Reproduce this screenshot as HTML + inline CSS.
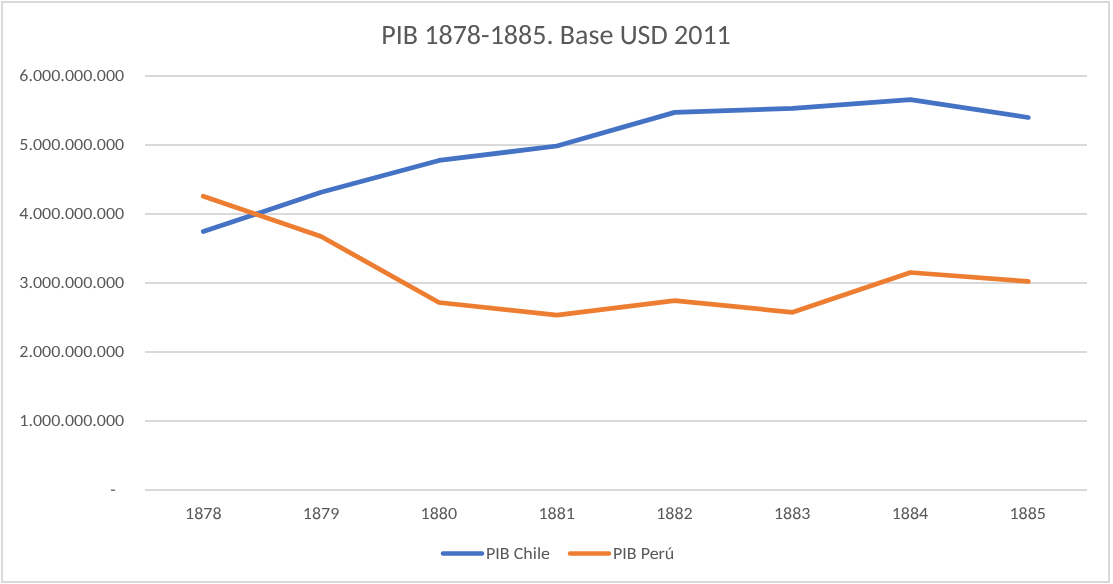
<!DOCTYPE html>
<html>
<head>
<meta charset="utf-8">
<style>
html,body{margin:0;padding:0;background:#fff;}
body{width:1113px;height:584px;overflow:hidden;}
svg{display:block;}
text{font-family:Carlito,"Liberation Sans",sans-serif;fill:#595959;text-rendering:geometricPrecision;}
</style>
</head>
<body>
<svg width="1113" height="584" viewBox="0 0 1113 584" xmlns="http://www.w3.org/2000/svg">
<rect x="0" y="0" width="1113" height="584" fill="#fff"/>
<rect x="2" y="2" width="1107" height="580" fill="#fff" stroke="#d9d9d9" stroke-width="2"/>
<text font-size="28" text-anchor="middle" transform="translate(556,44)" textLength="349.59" lengthAdjust="spacingAndGlyphs">PIB 1878-1885. Base USD 2011</text>
<g stroke="#d9d9d9" stroke-width="2" fill="none">
<line x1="145" y1="76" x2="1087" y2="76"/>
<line x1="145" y1="145" x2="1087" y2="145"/>
<line x1="145" y1="214" x2="1087" y2="214"/>
<line x1="145" y1="283" x2="1087" y2="283"/>
<line x1="145" y1="352" x2="1087" y2="352"/>
<line x1="145" y1="421" x2="1087" y2="421"/>
<line x1="145" y1="490" x2="1087" y2="490"/>
</g>
<g font-size="18" text-anchor="end">
<text transform="translate(124.2,81.4) scale(1,0.95)" textLength="104.88" lengthAdjust="spacingAndGlyphs">6.000.000.000</text>
<text transform="translate(124.2,150.4) scale(1,0.95)" textLength="104.88" lengthAdjust="spacingAndGlyphs">5.000.000.000</text>
<text transform="translate(124.2,219.4) scale(1,0.95)" textLength="104.88" lengthAdjust="spacingAndGlyphs">4.000.000.000</text>
<text transform="translate(124.2,288.4) scale(1,0.95)" textLength="104.88" lengthAdjust="spacingAndGlyphs">3.000.000.000</text>
<text transform="translate(124.2,357.4) scale(1,0.95)" textLength="104.88" lengthAdjust="spacingAndGlyphs">2.000.000.000</text>
<text transform="translate(124.2,426.4) scale(1,0.95)" textLength="104.88" lengthAdjust="spacingAndGlyphs">1.000.000.000</text>
<text transform="translate(115.7,495.4) scale(1,0.95)" textLength="5.52" lengthAdjust="spacingAndGlyphs">-</text>
</g>
<g font-size="18" text-anchor="middle">
<text transform="translate(203.33,519) scale(1,0.95)" textLength="36.5" lengthAdjust="spacingAndGlyphs">1878</text>
<text transform="translate(321.10,519) scale(1,0.95)" textLength="36.5" lengthAdjust="spacingAndGlyphs">1879</text>
<text transform="translate(438.87,519) scale(1,0.95)" textLength="36.5" lengthAdjust="spacingAndGlyphs">1880</text>
<text transform="translate(556.64,519) scale(1,0.95)" textLength="36.5" lengthAdjust="spacingAndGlyphs">1881</text>
<text transform="translate(674.41,519) scale(1,0.95)" textLength="36.5" lengthAdjust="spacingAndGlyphs">1882</text>
<text transform="translate(792.18,519) scale(1,0.95)" textLength="36.5" lengthAdjust="spacingAndGlyphs">1883</text>
<text transform="translate(909.95,519) scale(1,0.95)" textLength="36.5" lengthAdjust="spacingAndGlyphs">1884</text>
<text transform="translate(1027.72,519) scale(1,0.95)" textLength="36.5" lengthAdjust="spacingAndGlyphs">1885</text>
</g>
<g fill="none" stroke-width="4.75" stroke-linecap="round" stroke-linejoin="round">
<polyline stroke="#4472c4" points="203.30,231.5 321.16,192.3 439.02,160.45 556.88,146 674.74,112.35 792.60,108.3 910.46,99.6 1028.32,117.5"/>
<polyline stroke="#ed7d31" points="203.30,196.3 321.16,236.5 439.02,302.5 556.88,315.1 674.74,300.7 792.60,312.3 910.46,272.5 1028.32,281.45"/>
</g>
<g stroke-width="4.5" stroke-linecap="round">
<line x1="443" y1="553.5" x2="482" y2="553.5" stroke="#4472c4"/>
<line x1="570" y1="553.5" x2="609" y2="553.5" stroke="#ed7d31"/>
</g>
<g font-size="18">
<text transform="translate(486,559) scale(1,0.95)" textLength="63.97" lengthAdjust="spacingAndGlyphs">PIB Chile</text>
<text transform="translate(613,559) scale(1,0.95)" textLength="61.33" lengthAdjust="spacingAndGlyphs">PIB Perú</text>
</g>
</svg>
</body>
</html>
